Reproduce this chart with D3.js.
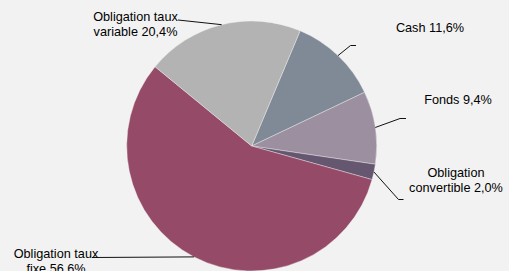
<!DOCTYPE html>
<html>
<head>
<meta charset="utf-8">
<script src="https://cdn.jsdelivr.net/npm/d3@7"></script>
<style>
  html, body { margin: 0; padding: 0; background: #f2f2f2; }
  svg { display: block; }
  text { font-family: "Liberation Sans", Arial, sans-serif; font-size: 12.7px; fill: #000; }
</style>
</head>
<body>
<svg id="chart" width="509" height="271"></svg>
<script>
// Allocation data, in drawing order (clockwise from the Cash slice)
const categories = ["Cash", "Fonds", "Obligation\nconvertible", "Obligation taux\nfixe", "Obligation taux\nvariable"];
const shares = [11.6, 9.4, 2.0, 56.6, 20.4];

const palette = ["#7f8a96", "#9b8fa0", "#665770", "#954b68", "#b3b3b3"];

// Hand placed labels (like the original), one per slice: text centre, first baseline,
// and an optional elbow where the leader line bends before reaching the text.
const labelLayout = [
  { x: 430, y: 31.5, elbow: [350.5, 45.5], end: [356, 45.5] },
  { x: 458, y: 104, elbow: [400, 118.5], end: [406, 118.5] },
  { x: 456, y: 176.5, elbow: [398.5, 199.5], end: [403.5, 199.5] },
  { x: 56, y: 257.5, elbow: null, end: [92, 257.5] },
  { x: 135.5, y: 20.5, elbow: null, end: [178, 20] }
];

const cx = 251.7, cy = 146, radius = 125;
const startAngle = 22.8 * Math.PI / 180;

const svg = d3.select("#chart");
const g = svg.append("g").attr("transform", `translate(${cx},${cy})`);

const color = d3.scaleOrdinal().domain(categories).range(palette);

const pie = d3.pie()
    .sort(null)
    .value((d, i) => shares[i])
    .startAngle(startAngle)
    .endAngle(startAngle + 2 * Math.PI);

const arc = d3.arc().innerRadius(0).outerRadius(radius);
const arcs = pie(categories);

g.selectAll("path.slice")
  .data(arcs)
  .join("path")
    .attr("class", "slice")
    .attr("d", arc)
    .attr("fill", d => color(d.data))
    .attr("stroke", "#f2f2f2")
    .attr("stroke-width", 0.4);

// Point on the rim at the middle of a slice
function rimPoint(d) {
  const a = (d.startAngle + d.endAngle) / 2;
  return [cx + radius * Math.sin(a), cy - radius * Math.cos(a)];
}

const fmt = v => d3.format(".1f")(v).replace(".", ",") + "%";

// Leader lines
svg.selectAll("path.leader")
  .data(arcs)
  .join("path")
    .attr("class", "leader")
    .attr("fill", "none")
    .attr("stroke", "#111")
    .attr("stroke-width", 1)
    .attr("d", (d, i) => {
      const pts = [rimPoint(d)];
      const lay = labelLayout[i];
      if (lay.elbow) pts.push(lay.elbow);
      pts.push(lay.end);
      return d3.line()(pts);
    });

// Labels: category name + share, wrapped where the name has a break
const labels = svg.selectAll("text.label")
  .data(arcs)
  .join("text")
    .attr("class", "label")
    .attr("text-anchor", "middle")
    .attr("x", (d, i) => labelLayout[i].x)
    .attr("y", (d, i) => labelLayout[i].y);

labels.each(function(d, i) {
  const lines = (categories[i] + " " + fmt(shares[i])).split("\n");
  d3.select(this).selectAll("tspan")
    .data(lines)
    .join("tspan")
      .attr("x", labelLayout[i].x)
      .attr("dy", (l, j) => j === 0 ? 0 : 15)
      .text(l => l);
});
</script>
</body>
</html>
